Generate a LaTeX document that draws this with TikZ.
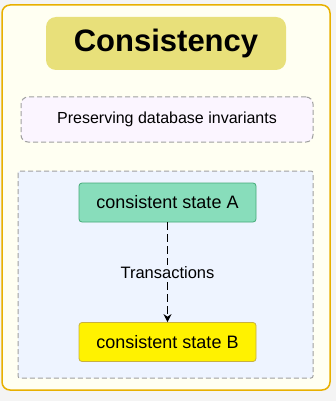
\documentclass[tikz,border=0pt]{standalone}
\usepackage{fontspec}
\setmainfont{Liberation Sans}
\usetikzlibrary{positioning,arrows.meta}

\definecolor{pagebg}{HTML}{F4F4F4}
\definecolor{framefill}{HTML}{FFFFF2}
\definecolor{frameline}{HTML}{E8B000}
\definecolor{titlefill}{HTML}{E8E07A}
\definecolor{notefill}{HTML}{FBF5FF}
\definecolor{groupfill}{HTML}{EEF4FF}
\definecolor{boxgray}{HTML}{A0A0A0}
\definecolor{mintfill}{HTML}{88DDBB}
\definecolor{mintline}{HTML}{44AA77}
\definecolor{yelfill}{HTML}{FFF200}
\definecolor{yelline}{HTML}{C8B040}

\tikzset{
  statebox/.style={draw, thick, rounded corners=3pt, minimum width=177pt,
    minimum height=39pt, font=\fontsize{18}{21}\selectfont},
  grayline/.style={draw=boxgray, line width=1pt, dash pattern=on 5pt off 3pt},
}

\begin{document}
\begin{tikzpicture}[x=1pt, y=-1pt]
  \useasboundingbox (0,0) rectangle (336,401);
  \fill[pagebg] (0,0) rectangle (336,401);

  % outer frame
  \draw[frameline, fill=framefill, line width=1.5pt, rounded corners=8pt]
    (2,5) rectangle (330,390);

  % title
  \node[fill=titlefill, rounded corners=10pt, minimum width=240pt,
    minimum height=53pt, font=\fontsize{31}{36}\selectfont\bfseries]
    (title) at (166,43.5) {Consistency};

  % note
  \node[grayline, fill=notefill, rounded corners=7pt,
    minimum width=292pt, minimum height=45pt, font=\fontsize{16}{19}\selectfont]
    (note) at (167,119.5) {Preserving database invariants};

  % group
  \draw[grayline, fill=groupfill, rounded corners=2pt]
    (18,171) rectangle (313,378);

  % states
  \node[statebox, draw=mintline, fill=mintfill] (stateA) at (167.5,202.5)
    {consistent state A};
  \node[statebox, draw=yelline, fill=yelfill] (stateB) at (167.5,342)
    {consistent state B};

  \draw[-{Stealth[length=8pt,width=8pt]}, line width=1.2pt,
    dash pattern=on 8pt off 4pt] (stateA) -- (stateB)
    node[midway, fill=groupfill, inner sep=1pt, font=\fontsize{16.5}{19}\selectfont]
    (trans) {Transactions};
\end{tikzpicture}
\end{document}
